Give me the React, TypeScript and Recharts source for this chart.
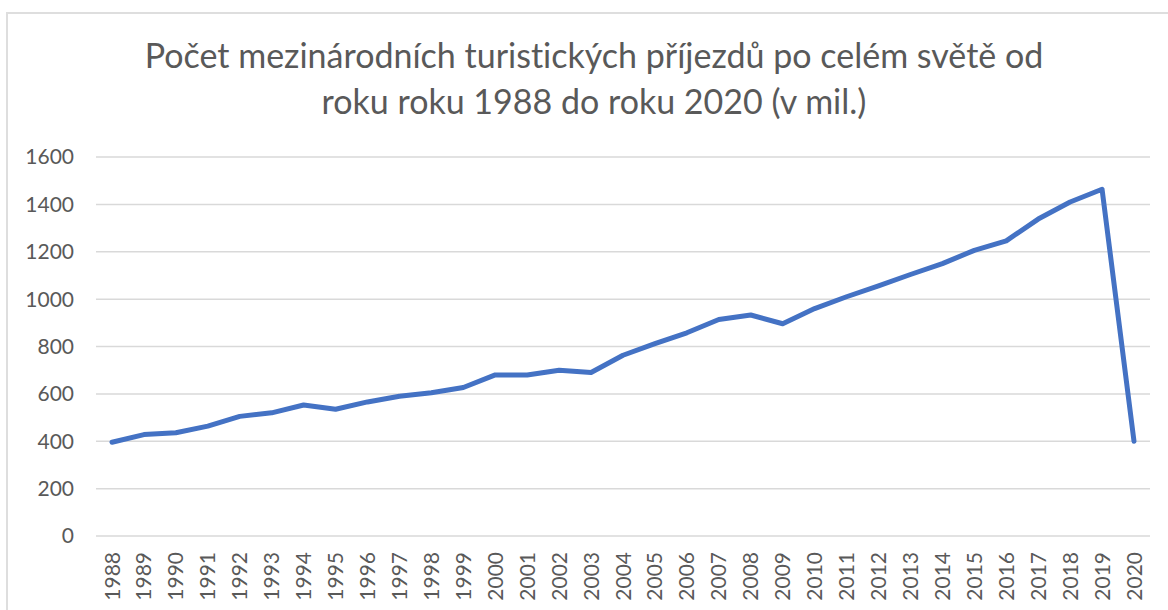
import React from 'react';
import { LineChart, Line, XAxis, YAxis, CartesianGrid } from 'recharts';

// years on the category axis
const years = [
    '1988', '1989', '1990', '1991', '1992', '1993', '1994', '1995', '1996', '1997', '1998',
    '1999', '2000', '2001', '2002', '2003', '2004', '2005', '2006', '2007', '2008', '2009',
    '2010', '2011', '2012', '2013', '2014', '2015', '2016', '2017', '2018', '2019', '2020',
];

// international tourist arrivals, millions
const arrivals = [
    396, 428, 436, 464, 505, 520, 553, 535, 566, 590, 605,
    627, 680, 680, 700, 690, 763, 812, 858, 914, 933, 896,
    960, 1010, 1056, 1104, 1150, 1206, 1246, 1338, 1410, 1464, 400,
];

const yTicks = [0, 200, 400, 600, 800, 1000, 1200, 1400, 1600];

const titleLines = [
    'Počet mezinárodních turistických příjezdů po celém světě od',
    'roku roku 1988 do roku 2020 (v mil.)',
];

const data = years.map((year, i) => ({ year, value: arrivals[i] }));

const FONT = 'Lato, "Open Sans", sans-serif';
const TEXT = '#595959';

// rotated year label, reads bottom to top
const YearTick = ({ x, y, payload }: any) => (
    <text
        x={x}
        y={y + 8}
        transform={`rotate(-90, ${x}, ${y + 8})`}
        textAnchor="end"
        dy="0.36em"
        fill={TEXT}
        fontSize={21}
        fontFamily={FONT}
    >
        {payload.value}
    </text>
);

export default function App() {
    return (
        <div style={{ position: 'absolute', left: 0, top: 0, width: 1168, height: 610, overflow: 'hidden', background: '#fff' }}>
            {/* chart frame, cropped on the right and bottom */}
            <div style={{ position: 'absolute', left: 6, top: 12, width: 1200, height: 700, border: '2px solid #dedede' }} />

            <div
                style={{
                    position: 'absolute',
                    left: 0,
                    width: 1188,
                    top: 32,
                    textAlign: 'center',
                    fontFamily: FONT,
                    fontSize: 34,
                    lineHeight: '46px',
                    color: TEXT,
                    fontVariantLigatures: 'none',
                }}
            >
                {titleLines.map((t) => (
                    <div key={t}>{t}</div>
                ))}
            </div>

            <div style={{ position: 'absolute', left: 0, top: 0 }}>
                <LineChart width={1168} height={610} data={data} margin={{ top: 157, right: 18, bottom: 0, left: 0 }}>
                    <CartesianGrid vertical={false} stroke="#d9d9d9" strokeWidth={1.5} />
                    <XAxis
                        dataKey="year"
                        interval={0}
                        padding={{ left: 16, right: 16 }}
                        height={74}
                        axisLine={false}
                        tickLine={false}
                        tick={<YearTick />}
                    />
                    <YAxis
                        domain={[0, 1600]}
                        ticks={yTicks}
                        width={96}
                        axisLine={false}
                        tickLine={false}
                        tickMargin={16}
                        tick={{ fill: TEXT, fontSize: 21, fontFamily: FONT }}
                    />
                    <Line
                        type="linear"
                        dataKey="value"
                        stroke="#4472c4"
                        strokeWidth={5}
                        strokeLinejoin="round"
                        strokeLinecap="round"
                        dot={false}
                        activeDot={false}
                        isAnimationActive={false}
                    />
                </LineChart>
            </div>
        </div>
    );
}
